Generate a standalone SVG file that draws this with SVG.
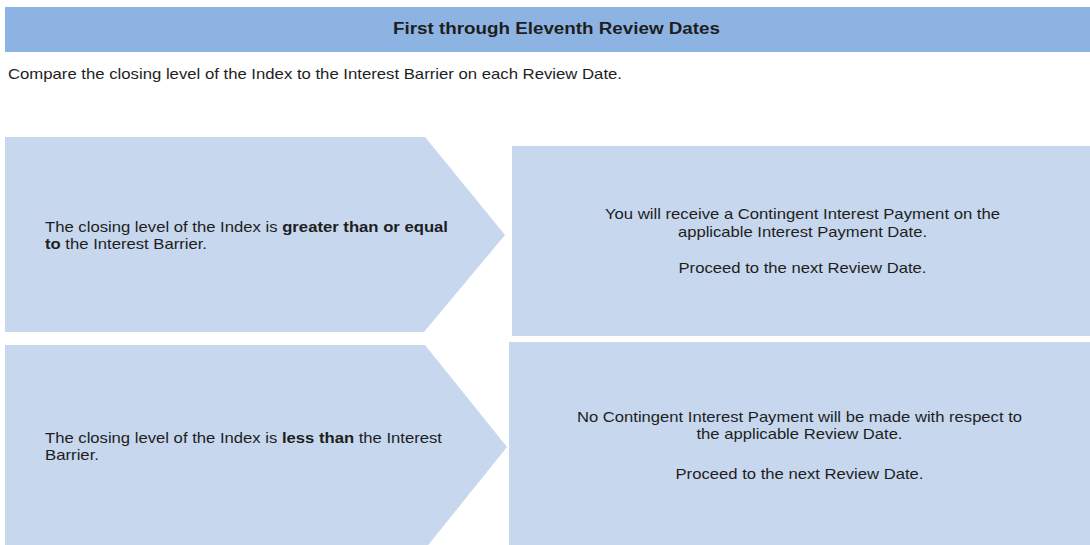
<svg xmlns="http://www.w3.org/2000/svg" width="1090" height="545" viewBox="0 0 1090 545">
<style>
.bg{fill:#ffffff}
.hdr{fill:#8db3e2}
.box{fill:#c6d7ee}
text{font-family:"Liberation Sans",Arial,sans-serif;fill:#1e1e1e;font-size:15px}
.b{font-weight:bold}
.ttl{font-weight:bold;font-size:16px}
.c{text-anchor:middle}
</style>
<rect class="bg" x="0" y="0" width="1090" height="545"/>
<g id="header">
<rect class="hdr" x="5" y="7" width="1085" height="45"/>
<text class="ttl c" x="556.5" y="34" textLength="327" lengthAdjust="spacingAndGlyphs">First through Eleventh Review Dates</text>
</g>
<text id="intro" x="8" y="79" textLength="614" lengthAdjust="spacingAndGlyphs">Compare the closing level of the Index to the Interest Barrier on each Review Date.</text>
<g id="cond-ge">
<polygon class="box" points="5,137 425,137 505,235 424,332 5,332"/>
<text x="45" y="232" textLength="403" lengthAdjust="spacingAndGlyphs">The closing level of the Index is <tspan class="b">greater than or equal</tspan></text>
<text x="45" y="249" textLength="162" lengthAdjust="spacingAndGlyphs"><tspan class="b">to</tspan> the Interest Barrier.</text>
</g>
<g id="result-ge">
<rect class="box" x="512" y="146" width="578" height="190"/>
<text class="c" x="802.5" y="219" textLength="395" lengthAdjust="spacingAndGlyphs">You will receive a Contingent Interest Payment on the</text>
<text class="c" x="802.5" y="237" textLength="249" lengthAdjust="spacingAndGlyphs">applicable Interest Payment Date.</text>
<text class="c" x="802.5" y="273" textLength="248" lengthAdjust="spacingAndGlyphs">Proceed to the next Review Date.</text>
</g>
<g id="cond-lt">
<polygon class="box" points="5,345 425,345 507,447 425,549 5,549"/>
<text x="45" y="443" textLength="397" lengthAdjust="spacingAndGlyphs">The closing level of the Index is <tspan class="b">less than</tspan> the Interest</text>
<text x="45" y="460" textLength="54" lengthAdjust="spacingAndGlyphs">Barrier.</text>
</g>
<g id="result-lt">
<rect class="box" x="509" y="342" width="581" height="210"/>
<text class="c" x="799.5" y="422" textLength="445" lengthAdjust="spacingAndGlyphs">No Contingent Interest Payment will be made with respect to</text>
<text class="c" x="799.5" y="439" textLength="206" lengthAdjust="spacingAndGlyphs">the applicable Review Date.</text>
<text class="c" x="799.5" y="479" textLength="248" lengthAdjust="spacingAndGlyphs">Proceed to the next Review Date.</text>
</g>
<g id="connectors"></g>
</svg>
